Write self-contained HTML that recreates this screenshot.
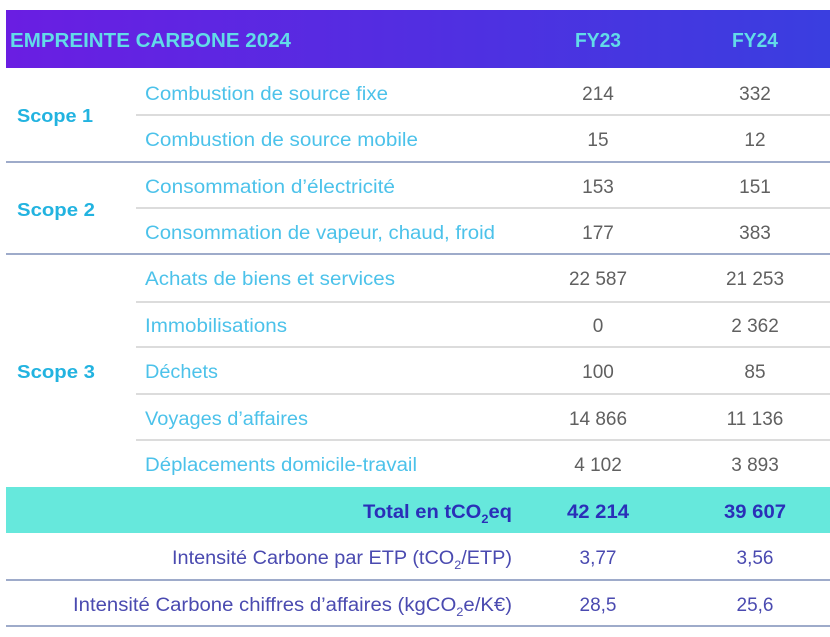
<!DOCTYPE html>
<html><head><meta charset="utf-8"><style>
html,body{margin:0;padding:0;background:#fff;width:830px;height:637px;overflow:hidden}
svg text{font-family:"Liberation Sans",sans-serif}
</style></head><body>
<svg width="830" height="637" viewBox="0 0 830 637">
<defs><linearGradient id="g" x1="0" x2="1" y1="0" y2="0"><stop offset="0" stop-color="#6a1ee2"/><stop offset="1" stop-color="#3a3ee0"/></linearGradient></defs>
<rect x="6" y="10" width="824" height="58" fill="url(#g)"/>
<g fill="#62dbe8" font-weight="bold" font-size="20">
<text x="10" y="47" textLength="281" lengthAdjust="spacingAndGlyphs">EMPREINTE CARBONE 2024</text>
<text x="598" y="47" text-anchor="middle" textLength="46" lengthAdjust="spacingAndGlyphs">FY23</text>
<text x="755" y="47" text-anchor="middle" textLength="46" lengthAdjust="spacingAndGlyphs">FY24</text>
</g>
<rect x="6" y="487" width="824" height="46" fill="#66e8dc"/>
<g stroke="#d0d0d0" stroke-width="1.5">
<line x1="136" y1="115" x2="830" y2="115"/><line x1="136" y1="208" x2="830" y2="208"/>
<line x1="136" y1="302" x2="830" y2="302"/><line x1="136" y1="347" x2="830" y2="347"/>
<line x1="136" y1="394" x2="830" y2="394"/><line x1="136" y1="440" x2="830" y2="440"/>
</g>
<g stroke="#7f8fb8" stroke-width="1.5">
<line x1="6" y1="162" x2="830" y2="162"/><line x1="6" y1="254" x2="830" y2="254"/>
<line x1="6" y1="580" x2="830" y2="580"/><line x1="6" y1="626" x2="830" y2="626"/>
</g>
<g fill="#22b3e0" font-weight="bold" font-size="18">
<text x="17" y="122" textLength="76" lengthAdjust="spacingAndGlyphs">Scope 1</text><text x="17" y="216" textLength="78" lengthAdjust="spacingAndGlyphs">Scope 2</text><text x="17" y="378" textLength="78" lengthAdjust="spacingAndGlyphs">Scope 3</text>
</g>
<g fill="#4cc2ea" font-size="19">
<text x="145" y="100" textLength="243" lengthAdjust="spacingAndGlyphs">Combustion de source fixe</text>
<text x="145" y="146" textLength="273" lengthAdjust="spacingAndGlyphs">Combustion de source mobile</text>
<text x="145" y="193" textLength="250" lengthAdjust="spacingAndGlyphs">Consommation d’électricité</text>
<text x="145" y="239" textLength="350" lengthAdjust="spacingAndGlyphs">Consommation de vapeur, chaud, froid</text>
<text x="145" y="285" textLength="250" lengthAdjust="spacingAndGlyphs">Achats de biens et services</text>
<text x="145" y="332" textLength="142" lengthAdjust="spacingAndGlyphs">Immobilisations</text>
<text x="145" y="378" textLength="73" lengthAdjust="spacingAndGlyphs">Déchets</text>
<text x="145" y="425" textLength="163" lengthAdjust="spacingAndGlyphs">Voyages d’affaires</text>
<text x="145" y="471" textLength="272" lengthAdjust="spacingAndGlyphs">Déplacements domicile-travail</text>
</g>
<g fill="#606060" font-size="19" text-anchor="middle">
<text x="598" y="100">214</text><text x="755" y="100">332</text>
<text x="598" y="146">15</text><text x="755" y="146">12</text>
<text x="598" y="193">153</text><text x="755" y="193">151</text>
<text x="598" y="239">177</text><text x="755" y="239">383</text>
<text x="598" y="285">22 587</text><text x="755" y="285">21 253</text>
<text x="598" y="332">0</text><text x="755" y="332">2 362</text>
<text x="598" y="378">100</text><text x="755" y="378">85</text>
<text x="598" y="425">14 866</text><text x="755" y="425">11 136</text>
<text x="598" y="471">4 102</text><text x="755" y="471">3 893</text>
</g>
<g fill="#2a2fb8" font-weight="bold" font-size="19">
<text x="363" y="518" textLength="149" lengthAdjust="spacingAndGlyphs">Total en tCO<tspan font-size="12" dy="5">2</tspan><tspan dy="-5">eq</tspan></text>
<text x="598" y="518" text-anchor="middle" textLength="62" lengthAdjust="spacingAndGlyphs">42 214</text>
<text x="755" y="518" text-anchor="middle" textLength="62" lengthAdjust="spacingAndGlyphs">39 607</text>
</g>
<g fill="#4a4ab0" font-size="19">
<text x="172" y="564" textLength="340" lengthAdjust="spacingAndGlyphs">Intensité Carbone par ETP (tCO<tspan font-size="12" dy="5">2</tspan><tspan dy="-5">/ETP)</tspan></text>
<text x="598" y="564" text-anchor="middle">3,77</text><text x="755" y="564" text-anchor="middle">3,56</text>
<text x="73" y="611" textLength="439" lengthAdjust="spacingAndGlyphs">Intensité Carbone chiffres d’affaires (kgCO<tspan font-size="12" dy="5">2</tspan><tspan dy="-5">e/K€)</tspan></text>
<text x="598" y="611" text-anchor="middle">28,5</text><text x="755" y="611" text-anchor="middle">25,6</text>
</g>
</svg>
</body></html>
